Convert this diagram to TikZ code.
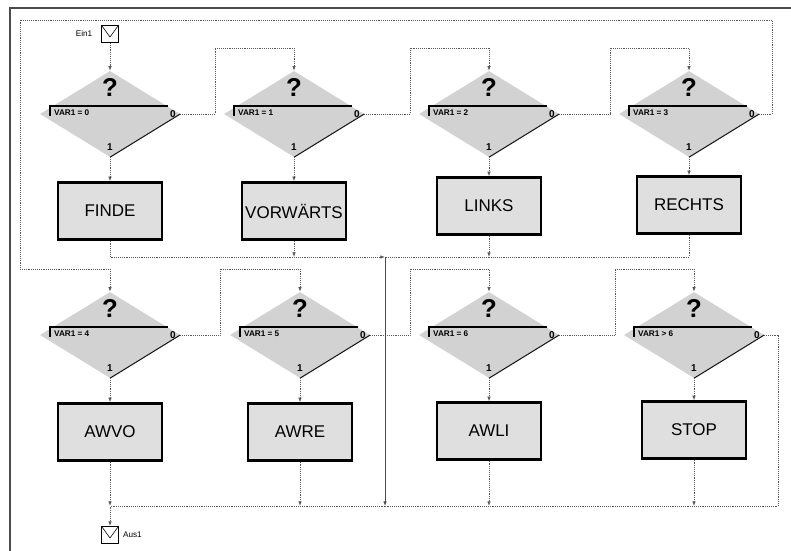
\documentclass[tikz,border=0pt]{standalone}
\usepackage{fontspec}
\setmainfont{Liberation Sans}
\usetikzlibrary{shapes.geometric,arrows.meta}
\begin{document}
\begin{tikzpicture}[x=0.3mm, y=-0.3mm,
	every node/.style={font=\fontsize{7}{8}\selectfont},
	flow/.style={gray!70!black, densely dotted, line width=0.6pt},
	tip/.style={-{Latex[length=4pt,width=3pt]}},
	test/.style={diamond, fill=gray!35, minimum width=42mm, minimum height=25.8mm, inner sep=0pt},
	task/.style={draw=black, line width=2pt, fill=gray!25, minimum width=31.2mm, minimum height=17.1mm, inner sep=0pt, font=\fontsize{14.5}{16}\selectfont},
	port/.style={draw=black, line width=0.8pt, fill=white, minimum size=5.1mm, inner sep=0pt}]
\useasboundingbox (0,0) rectangle (791,551);
\draw[gray!60!black, line width=1.5pt] (10,551) -- (10,8) -- (791,8);
\foreach \name/\x/\y/\cond in {d1/110/114/{= 0}, d2/294/114/{= 1}, d3/489/114/{= 2}, d4/689/114/{= 3},
	d5/110/335/{= 4}, d6/300/335/{= 5}, d7/489/335/{= 6}, d8/694/335/{> 6}} {
	\node[test] (\name) at (\x,\y) {};
	\draw[black, line width=1pt] (\x-60,\y+2) -- (\x-60,\y-8) -- (\x+58,\y-8);
	\draw[gray!20!black, line width=0.9pt] (\name.east) -- (\name.south);
	\node[anchor=west, font=\bfseries\fontsize{7}{8}\selectfont] (\name-c) at (\x-60,\y-1) {VAR1 \cond};
	\node[font=\bfseries\fontsize{22}{22}\selectfont] (\name-q) at (\x,\y-26) {?};
	\node[font=\bfseries\fontsize{8.5}{9}\selectfont] (\name-n) at (\x+63,\y) {0};
	\node[font=\bfseries\fontsize{8.5}{9}\selectfont] (\name-e) at (\x,\y+33) {1};
}
\foreach \name/\x/\y/\txt in {finde/110/211/FINDE, vorw/294/211/VORWÄRTS, links/489/206/LINKS, rechts/689/205/RECHTS,
	awvo/110/432/AWVO, awre/300/432/AWRE, awli/489/431/AWLI, stop/694/430/STOP}
	\node[task] (\name) at (\x,\y) {\txt};
\foreach \name/\x/\y in {k1/215/48, k2/410/48, k3/610/48, k4/772/20, k5/20/269, k6/220/269, k7/410/269,
	k8/615/269, k9/778/506, m1/385/257, m2/385/506}
	\coordinate (\name) at (\x,\y);
\node[port] (ein) at (110,34) {};
\node[port] (aus1) at (110,535) {};
\draw[line width=0.5pt] ([shift={(1,1)}]ein.north west) -- ([shift={(0,3)}]ein.center) -- ([shift={(-1,1)}]ein.north east);
\draw[line width=0.5pt] ([shift={(1,1)}]aus1.north west) -- ([shift={(0,3)}]aus1.center) -- ([shift={(-1,1)}]aus1.north east);
\node[anchor=east, xshift=-4pt] (ein-l) at (ein.west) {Ein1};
\node[anchor=west] (aus1-l) at (aus1.east) {Aus1};
\draw[flow,tip] (ein) -- (d1);
\draw[flow,tip] (d1.east) -| (k1) -| (d2.north);
\draw[flow,tip] (d2.east) -| (k2) -| (d3.north);
\draw[flow,tip] (d3.east) -| (k3) -| (d4.north);
\draw[flow,tip] (d4.east) -| (k4) -| (k5) -| (d5.north);
\draw[flow,tip] (d5.east) -| (k6) -| (d6.north);
\draw[flow,tip] (d6.east) -| (k7) -| (d7.north);
\draw[flow,tip] (d7.east) -| (k8) -| (d8.north);
\foreach \a/\b in {d1/finde, d2/vorw, d3/links, d4/rechts, d5/awvo, d6/awre, d7/awli, d8/stop}
	\draw[flow,tip] (\a.south) -- (\b);
\draw[flow,tip] (finde) |- (m1);
\draw[flow,tip] (vorw) -- (vorw |- m1);
\draw[flow,tip] (links) -- (links |- m1);
\draw[flow] (rechts) |- (m1);
\foreach \b in {awvo, awre, awli, stop}
	\draw[flow,tip] (\b) -- (\b |- m2);
\draw[gray!60!black, line width=0.6pt, tip] (m1) -- (m2);
\draw[flow] (d8.east) -| (k9) -- (m2);
\draw[flow,tip] (m2) -- (awvo |- m2) -- (aus1);
\end{tikzpicture}
\end{document}
